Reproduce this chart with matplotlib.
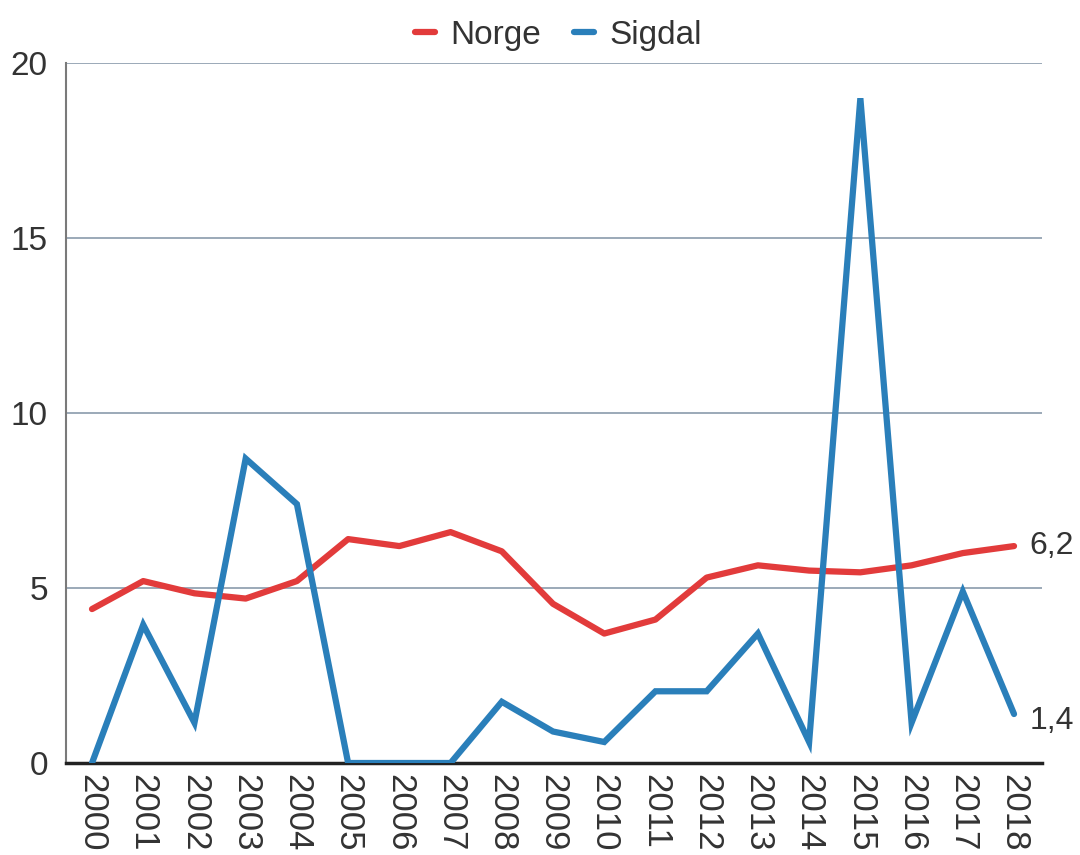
import matplotlib.pyplot as plt
from matplotlib.ticker import FixedLocator

plt.rcParams['font.family'] = ['Liberation Sans', 'DejaVu Sans']

years = list(range(2000, 2019))
norge = [4.4, 5.2, 4.85, 4.7, 5.2, 6.4, 6.2, 6.6, 6.05, 4.55, 3.7, 4.1, 5.3, 5.65,
         5.5, 5.45, 5.65, 6.0, 6.2]
sigdal = [0.0, 3.95, 1.15, 8.7, 7.4, 0.0, 0.0, 0.0, 1.75, 0.9, 0.6, 2.05, 2.05, 3.7,
          0.6, 19.0, 1.15, 4.9, 1.4]
end_labels = ["6,2", "1,4"]

red = "#e23b3b"
blue = "#2a7fba"
txt = "#333333"

fig = plt.figure(figsize=(10.8, 8.55), dpi=100)
ax = fig.add_axes([0.061, 0.1076, 0.904, 0.8184])

ax.plot(years, norge, color=red, lw=4.5, solid_capstyle='round', solid_joinstyle='round',
        label="Norge", zorder=3)
ax.plot(years, sigdal, color=blue, lw=4.5, solid_capstyle='round', solid_joinstyle='miter',
        label="Sigdal", zorder=3)

ax.text(years[-1] + 0.3, norge[-1], end_labels[0], fontsize=23, color=txt, va='center')
ax.text(years[-1] + 0.3, sigdal[-1] - 0.2, end_labels[1], fontsize=23, color=txt, va='center')

ax.set_xlim(1999.49, 2018.55)
ax.set_ylim(0, 20)
ax.set_xticks(years)
ax.set_xticklabels([str(y) for y in years], rotation=-90, fontsize=25, color=txt)
ax.yaxis.set_major_locator(FixedLocator([0, 5, 10, 15, 20]))
ax.tick_params(axis='y', labelsize=24, colors=txt, length=0, pad=13)
ax.tick_params(axis='x', length=0, pad=8)
ax.grid(axis='y', color='#8a9bab', lw=1.2)
ax.set_axisbelow(True)

for s in ['top', 'right']:
    ax.spines[s].set_visible(False)
ax.spines['left'].set_color('#7a7a7a')
ax.spines['left'].set_linewidth(1.5)
ax.spines['bottom'].set_color('#222222')
ax.spines['bottom'].set_linewidth(2.5)

leg = fig.legend(loc='upper center', bbox_to_anchor=(0.517, 1.012), ncol=2, frameon=False,
                 fontsize=24, handlelength=0.6, handletextpad=0.45, columnspacing=1.0)
for t in leg.get_texts():
    t.set_color(txt)

fig.savefig("out.png", dpi=100)
